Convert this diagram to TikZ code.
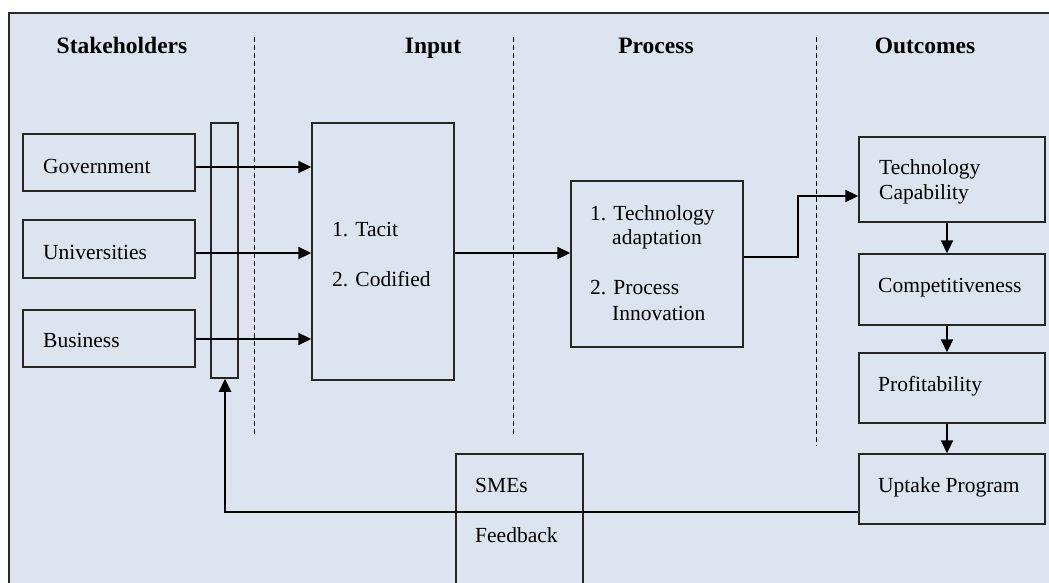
\documentclass[tikz,border=0pt]{standalone}
\usepackage{fontspec}
\setmainfont{Liberation Serif}
\usetikzlibrary{arrows.meta,fit,calc}
\definecolor{bgblue}{HTML}{DCE4F0}
\definecolor{framegray}{HTML}{2A2A2A}
\tikzset{
  box/.style={draw=black!85, line width=1.5pt, inner sep=0pt},
  lbl/.style={anchor=base west, inner sep=0pt, font=\fontsize{21.5}{26}\selectfont},
  hdr/.style={anchor=base, inner sep=0pt, font=\fontsize{23.5}{28}\selectfont\bfseries},
  divline/.style={draw=black, line width=1pt, dash pattern=on 5pt off 3pt},
  arr/.style={draw=black, line width=2.2pt, -{Triangle[length=13pt,width=12pt]}},
}
\begin{document}
\begin{tikzpicture}[x=1pt,y=-1pt]
\useasboundingbox (0,0) rectangle (1049,583);
\fill[white] (0,0) rectangle (1049,583);
\fill[bgblue] (9,13) rectangle (1070,600);
\draw[framegray, line width=2.5pt] (9,600) -- (9,13) -- (1070,13);

% headers
\node[hdr] (hs) at (122,54) {Stakeholders};
\node[hdr] (hi) at (433,54) {Input};
\node[hdr] (hp) at (656,54) {Process};
\node[hdr] (ho) at (925,54) {Outcomes};

% dashed dividers
\coordinate (d1t) at (254,37); \coordinate (d1b) at (254,435);
\coordinate (d2t) at (513,37); \coordinate (d2b) at (513,435);
\coordinate (d3t) at (816,37); \coordinate (d3b) at (816,446);
\draw[divline] (d1t) -- (d1b);
\draw[divline] (d2t) -- (d2b);
\draw[divline] (d3t) -- (d3b);

% stakeholder boxes
\node[box, fit={(23,134) (195,191)}] (gov) {};
\node[box, fit={(23,220) (195,278)}] (uni) {};
\node[box, fit={(23,310) (195,367)}] (bus) {};
\node[lbl] (govt) at (43,173) {Government};
\node[lbl] (unit) at (43,259) {Universities};
\node[lbl] (bust) at (43,347) {Business};

% bar
\node[box, fit={(211,123) (238,378)}] (bar) {};

% input
\node[box, fit={(312,123) (454,380)}] (inp) {};
\node[lbl] (inp1) at (332,236) {1. Tacit};
\node[lbl] (inp2) at (332,286) {2. Codified};

% arrows into input
\draw[arr] ([yshift=-4.5pt]gov.east) -- ([yshift=-4.5pt]gov.east -| inp.west);
\draw[arr] ([yshift=-4pt]uni.east) -- ([yshift=-4pt]uni.east -| inp.west);
\draw[arr] ([yshift=-0.5pt]bus.east) -- ([yshift=-0.5pt]bus.east -| inp.west);

% process
\node[box, fit={(571,181) (743,347)}] (proc) {};
\node[lbl] (p1) at (590,220) {1. Technology};
\node[lbl] (p1b) at (612,244) {adaptation};
\node[lbl] (p2) at (590,294) {2. Process};
\node[lbl] (p2b) at (612,320) {Innovation};

\draw[arr] ([yshift=-1.5pt]inp.east) -- ([yshift=-1.5pt]inp.east -| proc.west);

% outcomes
\node[box, fit={(859,137) (1045,222)}] (tc) {};
\node[lbl] (tct1) at (879,175) {Technology};
\node[lbl] (tct2) at (879,199) {Capability};
\node[box, fit={(859,254) (1045,325)}] (comp) {};
\node[lbl] (compt) at (878,292) {Competitiveness};
\node[box, fit={(859,353) (1045,423)}] (prof) {};
\node[lbl] (proft) at (878,391) {Profitability};
\node[box, fit={(859,454) (1045,524)}] (upt) {};
\node[lbl] (uptt) at (878,492) {Uptake Program};

% process -> technology capability
\coordinate (bend) at (798,257);
\draw[arr] ([yshift=7pt]proc.east) -- (bend) |- ([yshift=-16.5pt]tc.west);

% vertical arrows
\draw[arr] ([xshift=-5pt]tc.south) -- ([xshift=-5pt]comp.north);
\draw[arr] ([xshift=-5pt]comp.south) -- ([xshift=-5pt]prof.north);
\draw[arr] ([xshift=-5pt]prof.south) -- ([xshift=-5pt]upt.north);

% SMEs feedback box
\node[box, fit={(456,454) (583,610)}] (sme) {};
\node[lbl] (smet) at (475,492) {SMEs};
\node[lbl] (fbt) at (475,542) {Feedback};

% feedback line
\coordinate (fbc) at (225,512);
\draw[arr] ([yshift=-23pt]upt.west) -- (fbc) -- (fbc |- bar.south);
\end{tikzpicture}
\end{document}
